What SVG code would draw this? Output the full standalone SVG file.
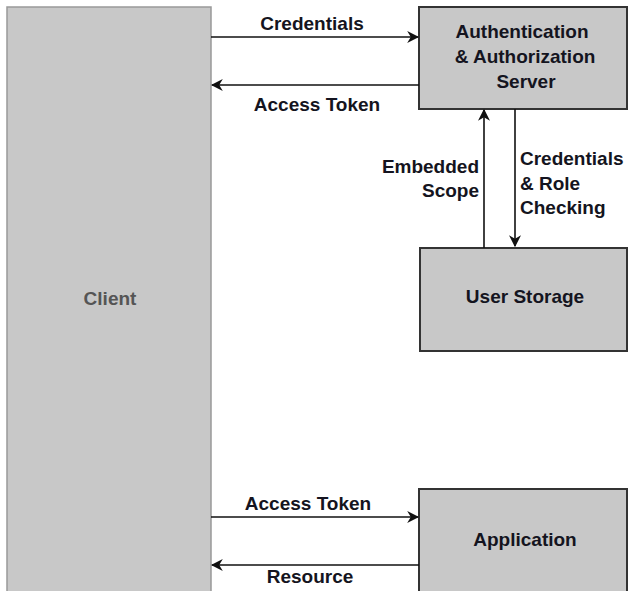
<svg xmlns="http://www.w3.org/2000/svg" width="632" height="591" viewBox="0 0 632 591">
<defs>
<style>
.box{fill:#c8c8c8;stroke:#333;stroke-width:2}
.client{fill:#c8c8c8;stroke:#999;stroke-width:1.5}
.t{font-family:"Liberation Sans",Arial,sans-serif;font-weight:bold;font-size:19px;fill:#141420}
.c{text-anchor:middle}
.r{text-anchor:end}
.edge{stroke:#111;stroke-width:1.6;fill:none;marker-end:url(#ah)}
</style>
<marker id="ah" viewBox="0 0 10 10" refX="9" refY="5" markerWidth="12" markerHeight="12" markerUnits="userSpaceOnUse" orient="auto">
<path d="M0,0 L10,5 L0,10 L3,5 Z" fill="#111"/>
</marker>
</defs>
<rect width="632" height="591" fill="#fff"/>
<g id="client">
<rect class="client" x="7" y="7" width="204" height="600"/>
<text class="t c" x="110" y="305" style="fill:#555">Client</text>
</g>
<g id="auth">
<rect class="box" x="419" y="7" width="208" height="102"/>
<text class="t c" x="522" y="38">Authentication</text>
<text class="t c" x="525" y="63">&amp; Authorization</text>
<text class="t c" x="526" y="88">Server</text>
</g>
<g id="storage">
<rect class="box" x="420" y="248" width="207" height="103"/>
<text class="t c" x="525" y="303">User Storage</text>
</g>
<g id="application">
<rect class="box" x="419" y="489" width="208" height="120"/>
<text class="t c" x="525" y="546">Application</text>
</g>
<g id="connectors">
<line class="edge" x1="211" y1="37" x2="418" y2="37"/>
<text class="t c" x="312" y="30">Credentials</text>
<line class="edge" x1="419" y1="85" x2="212" y2="85"/>
<text class="t c" x="317" y="111">Access Token</text>
<line class="edge" x1="484" y1="248" x2="484" y2="110"/>
<text class="t r" x="479" y="173">Embedded</text>
<text class="t r" x="479" y="197">Scope</text>
<line class="edge" x1="515" y1="109" x2="515" y2="246"/>
<text class="t" x="520" y="165">Credentials</text>
<text class="t" x="520" y="190">&amp; Role</text>
<text class="t" x="520" y="214">Checking</text>
<line class="edge" x1="211" y1="517" x2="418" y2="517"/>
<text class="t c" x="308" y="510">Access Token</text>
<line class="edge" x1="419" y1="565" x2="212" y2="565"/>
<text class="t c" x="310" y="583">Resource</text>
</g>
</svg>
